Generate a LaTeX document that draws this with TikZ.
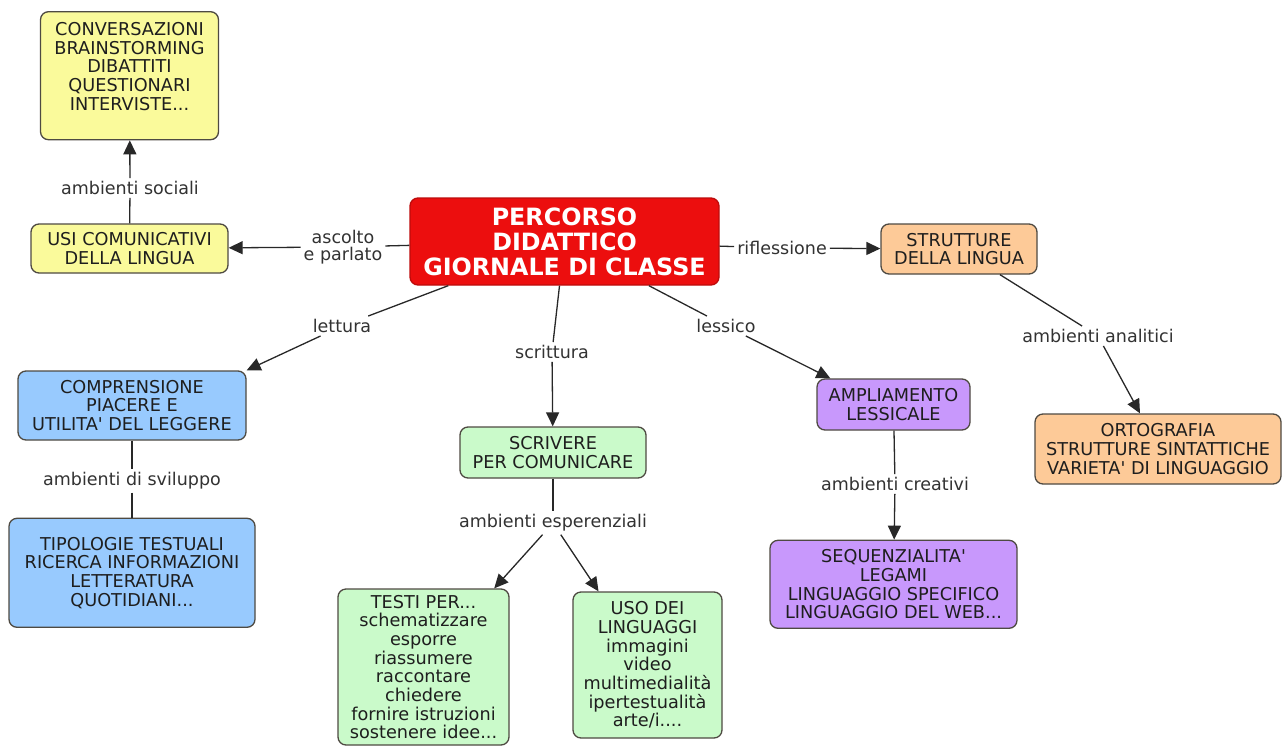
\documentclass[tikz,border=0pt]{standalone}
\usepackage{fontspec}
\setmainfont{DejaVu Sans}
\usepackage{xcolor}
\usetikzlibrary{arrows.meta,positioning}

\definecolor{cmapyellow}{RGB}{250,250,155}
\definecolor{cmapred}{RGB}{236,14,14}
\definecolor{cmappeach}{RGB}{253,202,152}
\definecolor{cmappurple}{RGB}{200,152,252}
\definecolor{cmapgreen}{RGB}{202,250,202}
\definecolor{cmapblue}{RGB}{152,202,254}
\definecolor{cmapborder}{RGB}{78,74,66}
\definecolor{cmaptext}{RGB}{30,30,30}
\definecolor{linktext}{RGB}{50,50,50}
\definecolor{linkline}{RGB}{40,40,40}

\newcommand{\apo}{\textquotesingle}

\begin{document}
\begin{tikzpicture}[x=1pt, y=-1pt,
    node distance=40pt,
    concept/.style={rectangle, draw=cmapborder, line width=1.3pt, rounded corners=8pt, align=center, inner sep=4pt, text=cmaptext, font=\fontsize{17.7}{18.7}\selectfont},
    yellowbox/.style={concept, fill=cmapyellow},
    peachbox/.style={concept, fill=cmappeach},
    purplebox/.style={concept, fill=cmappurple},
    greenbox/.style={concept, fill=cmapgreen},
    bluebox/.style={concept, fill=cmapblue},
    rootbox/.style={concept, fill=cmapred, draw=cmapred!80!black, text=white, font=\bfseries\fontsize{23.8}{25}\selectfont},
    linkword/.style={fill=white, inner sep=3pt, align=center, text=linktext, font=\fontsize{17.5}{17}\selectfont},
    conn/.style={draw=linkline, line width=1.3pt},
    arrow/.style={conn, -{Triangle[length=14pt,width=13pt]}}
]
\useasboundingbox (0,0) rectangle (1282,747);

% Centre
\node[rootbox, minimum width=309pt, minimum height=87pt] (root) at (564.5,241.5) {PERCORSO\\DIDATTICO\\GIORNALE DI CLASSE};

% Left: ascolto e parlato
\node[yellowbox, minimum width=197pt, minimum height=49pt] (usi) at (129.5,248.5) {USI COMUNICATIVI\\DELLA LINGUA};
\node[yellowbox, minimum width=178pt, minimum height=128pt, above=83pt of usi] (conv) {CONVERSAZIONI\\BRAINSTORMING\\DIBATTITI\\QUESTIONARI\\INTERVISTE...\\~};

% Left: lettura
\node[bluebox, minimum width=228pt, minimum height=69pt] (compr) at (132,405.5) {COMPRENSIONE\\PIACERE E\\UTILITA\apo{} DEL LEGGERE};
\node[bluebox, minimum width=246pt, minimum height=109pt, below=77pt of compr] (tipol) {TIPOLOGIE TESTUALI\\RICERCA INFORMAZIONI\\LETTERATURA\\QUOTIDIANI...};

% Middle: scrittura
\node[greenbox, minimum width=186pt, minimum height=51pt] (scriv) at (553,452.5) {SCRIVERE\\PER COMUNICARE};
\node[greenbox, minimum width=171pt, minimum height=156pt] (testi) at (423.5,667) {TESTI PER...\\schematizzare\\esporre\\riassumere\\raccontare\\chiedere\\fornire istruzioni\\sostenere idee...};
\node[greenbox, minimum width=149pt, minimum height=146pt] (uso) at (647.5,665) {USO DEI\\LINGUAGGI\\immagini\\video\\multimedialità\\ipertestualità\\arte/i....};

% Right: lessico
\node[purplebox, minimum width=153pt, minimum height=51pt] (ampl) at (893.5,404.5) {AMPLIAMENTO\\LESSICALE};
\node[purplebox, minimum width=247pt, minimum height=88pt, below=109pt of ampl] (seq) {SEQUENZIALITA\apo\\LEGAMI\\LINGUAGGIO SPECIFICO\\LINGUAGGIO DEL WEB...};

% Right: riflessione
\node[peachbox, minimum width=156pt, minimum height=50pt] (strutt) at (959,249) {STRUTTURE\\DELLA LINGUA};
\node[peachbox, minimum width=246pt, minimum height=70pt] (ortog) at (1158,449) {ORTOGRAFIA\\STRUTTURE SINTATTICHE\\VARIETA\apo{} DI LINGUAGGIO};

% Linking words
\node[linkword] (lSoc) at (130,188) {ambienti sociali};
\node[linkword] (lAsc) at (343,247) {ascolto\\e parlato};
\node[linkword] (lRifl) at (782,248) {riflessione};
\node[linkword] (lLett) at (342,326) {lettura};
\node[linkword] (lScr) at (552,352) {scrittura};
\node[linkword] (lLess) at (726,326) {lessico};
\node[linkword] (lAnal) at (1098,336) {ambienti analitici};
\node[linkword] (lSvil) at (132,481) {ambienti di sviluppo};
\node[linkword] (lEsp) at (553,523) {ambienti esperenziali};
\node[linkword] (lCrea) at (895,484) {ambienti creativi};

% Connectors
\draw[conn] (root) -- (lAsc);
\draw[arrow] (lAsc) -- (usi);
\draw[conn] (usi) -- (lSoc);
\draw[arrow] (lSoc) -- (conv);

\draw[conn] (root) -- (lRifl);
\draw[arrow] (lRifl) -- (strutt);
\draw[conn] (strutt) -- (lAnal);
\draw[arrow] (lAnal) -- ([xshift=-18pt]ortog.north);

\draw[conn] (root) -- (lLett);
\draw[arrow] (lLett) -- (compr.north east);
\draw[conn] (compr) -- (lSvil);
\draw[conn] (lSvil) -- (tipol);

\draw[conn] (root) -- (lScr);
\draw[arrow] (lScr) -- (scriv);
\draw[conn] (scriv) -- (lEsp);
\draw[arrow] (lEsp) -- (testi);
\draw[arrow] (lEsp) -- (uso);

\draw[conn] (root) -- (lLess);
\draw[arrow] (lLess) -- ([xshift=14pt]ampl.north west);
\draw[conn] (ampl) -- (lCrea);
\draw[arrow] (lCrea) -- (seq);

\end{tikzpicture}
\end{document}
